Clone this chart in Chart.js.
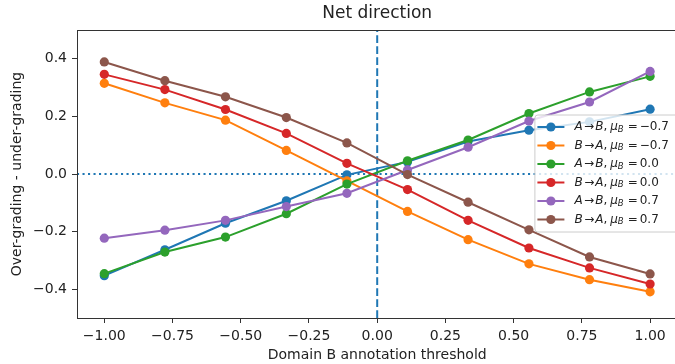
<!DOCTYPE html>
<html>
<head>
<meta charset="utf-8">
<script src="https://cdn.jsdelivr.net/npm/chart.js@4.4.1/dist/chart.umd.min.js"></script>
<style>
  html, body { margin: 0; padding: 0; background: #fff; }
  .chart { width: 675px; height: 364px; overflow: hidden; position: relative; }
  .chart canvas { position: absolute; left: 0; top: 0; }
</style>
</head>
<body>
<div class="chart"><canvas id="net" width="682" height="364" style="width:682px;height:364px"></canvas></div>
<script>
// thresholds on the x axis
const thresholds = [-1, -0.778, -0.556, -0.333, -0.111, 0.111, 0.333, 0.556, 0.778, 1]

// net over-grading per series
const abNeg = [-0.353, -0.263, -0.171, -0.093, -0.003, 0.042, 0.113, 0.152, 0.181, 0.225]
const baNeg = [0.315, 0.247, 0.187, 0.082, -0.024, -0.130, -0.228, -0.312, -0.367, -0.409]
const abZero = [-0.346, -0.271, -0.219, -0.138, -0.035, 0.046, 0.118, 0.210, 0.285, 0.339]
const baZero = [0.346, 0.293, 0.224, 0.141, 0.037, -0.054, -0.161, -0.257, -0.326, -0.382]
const abPos = [-0.223, -0.195, -0.161, -0.113, -0.067, 0.014, 0.093, 0.184, 0.250, 0.356]
const baPos = [0.389, 0.324, 0.268, 0.196, 0.108, -0.002, -0.098, -0.194, -0.288, -0.347]

const directions = [['A', 'B'], ['B', 'A'], ['A', 'B'], ['B', 'A'], ['A', 'B'], ['B', 'A']]
const muValues = ['−0.7', '−0.7', '0.0', '0.0', '0.7', '0.7']

const xTicks = [-1, -0.75, -0.5, -0.25, 0, 0.25, 0.5, 0.75, 1]
const yTicks = [-0.4, -0.2, 0, 0.2, 0.4]
const xLimits = [-1.1, 1.1]
const yLimits = [-0.5, 0.5]

const titleText = 'Net direction'
const xTitle = 'Domain B annotation threshold'
const yTitle = 'Over-grading - under-grading'

const colors = ['#1f77b4', '#ff7f0e', '#2ca02c', '#d62728', '#9467bd', '#8c564b']
const seriesValues = [abNeg, baNeg, abZero, baZero, abPos, baPos]

const FONT = '"DejaVu Sans", sans-serif'
const fmt = (v, d) => v.toFixed(d).replace('-', '−')

const datasets = seriesValues.map((vals, i) => ({
  data: vals.map((y, j) => ({ x: thresholds[j], y })),
  borderColor: colors[i],
  backgroundColor: colors[i],
  borderWidth: 2,
  pointRadius: 4.6,
  pointBorderWidth: 0,
  pointHoverRadius: 4.6,
  order: seriesValues.length - i,
}))

// y = 0 dotted line and x = 0 dashed line
datasets.push({
  data: xLimits.map(x => ({ x, y: 0 })),
  borderColor: '#1f77b4', borderWidth: 2, borderDash: [2.1, 3.4],
  pointRadius: 0, order: 20,
})
datasets.push({
  data: yLimits.map(y => ({ x: 0, y })),
  borderColor: '#1f77b4', borderWidth: 2, borderDash: [7.7, 3.3],
  pointRadius: 0, order: 20,
})

// legend label pieces, mathtext-like: italic letters, small gaps
function drawParts(ctx, x, y, parts) {
  parts.forEach(p => {
    x += p.gap || 0
    ctx.font = (p.it ? 'italic ' : '') + (p.sub ? 8.5 : 12) + 'px ' + FONT
    ctx.fillText(p.t, x, y + (p.sub ? 2.5 : 0))
    x += ctx.measureText(p.t).width
  })
}

const decorPlugin = {
  id: 'decor',
  afterDatasetsDraw(chart) {
    const { ctx, chartArea: a } = chart
    ctx.save()
    // frame
    ctx.strokeStyle = '#333'
    ctx.lineWidth = 1
    ctx.strokeRect(Math.round(a.left) + 0.5, Math.round(a.top) + 0.5, a.right - a.left, a.bottom - a.top)

    // title
    ctx.fillStyle = '#222'
    ctx.font = '17px ' + FONT
    ctx.textAlign = 'center'
    ctx.textBaseline = 'middle'
    ctx.fillText(titleText, (a.left + a.right) / 2, 14)

    // legend
    const rowH = 18.5
    const w = 145
    const h = rowH * seriesValues.length + 6
    const x0 = a.right - 143
    const y0 = (a.top + a.bottom) / 2 - h / 2 - 1
    ctx.fillStyle = 'rgba(255,255,255,0.8)'
    ctx.strokeStyle = '#cccccc'
    ctx.beginPath()
    ctx.roundRect(x0 + 0.5, y0 + 0.5, w, h, 3)
    ctx.fill()
    ctx.stroke()
    ctx.textAlign = 'left'
    seriesValues.forEach((_, i) => {
      const cy = y0 + 12.5 + i * rowH
      ctx.strokeStyle = colors[i]
      ctx.lineWidth = 2
      ctx.beginPath()
      ctx.moveTo(x0 + 3, cy)
      ctx.lineTo(x0 + 30, cy)
      ctx.stroke()
      ctx.fillStyle = colors[i]
      ctx.beginPath()
      ctx.arc(x0 + 16.5, cy, 4.6, 0, Math.PI * 2)
      ctx.fill()
      ctx.fillStyle = '#222'
      const [from, to] = directions[i]
      drawParts(ctx, x0 + 40, cy, [
        { t: from, it: true }, { t: '→', gap: 1.5 }, { t: to, it: true, gap: 1 }, { t: ',' },
        { t: 'μ', it: true, gap: 3 }, { t: 'B', it: true, sub: true },
        { t: '=', gap: 4 }, { t: muValues[i], gap: 2 },
      ])
    })
    ctx.restore()
  },
}

Chart.defaults.font.family = FONT
Chart.defaults.color = '#222'

new Chart(document.getElementById('net'), {
  type: 'line',
  data: { datasets },
  plugins: [decorPlugin],
  options: {
    responsive: false,
    animation: false,
    layout: { padding: { top: 30, right: 2, left: 0, bottom: 0 } },
    plugins: { legend: { display: false }, tooltip: { enabled: false }, title: { display: false } },
    scales: {
      x: {
        type: 'linear',
        min: xLimits[0],
        max: xLimits[1],
        afterBuildTicks: s => { s.ticks = xTicks.map(value => ({ value })) },
        afterFit: s => { s.height = 46 },
        ticks: { callback: v => fmt(v, 2), font: { size: 14 }, padding: 5, maxRotation: 0, autoSkip: false },
        grid: { drawOnChartArea: false, tickLength: 5, tickColor: '#333' },
        border: { display: true, color: '#333', width: 1 },
        title: { display: true, text: xTitle, font: { size: 14 }, padding: { top: 0, bottom: 0 } },
      },
      y: {
        type: 'linear',
        min: yLimits[0],
        max: yLimits[1],
        afterBuildTicks: s => { s.ticks = yTicks.map(value => ({ value })) },
        afterFit: s => { s.width = 77 },
        ticks: { callback: v => fmt(v, 1), font: { size: 14 }, padding: 5, autoSkip: false },
        grid: { drawOnChartArea: false, tickLength: 5, tickColor: '#333' },
        border: { display: true, color: '#333', width: 1 },
        title: { display: true, text: yTitle, font: { size: 14 }, padding: { top: 9, bottom: 0 } },
      },
    },
  },
})
</script>
</body>
</html>
